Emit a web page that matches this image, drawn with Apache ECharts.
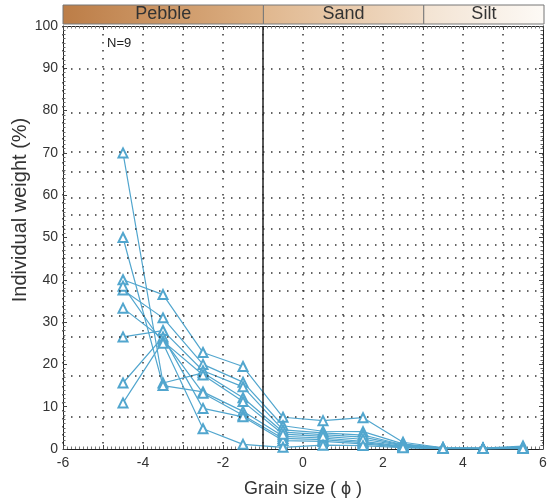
<!DOCTYPE html>
<html>
<head>
<meta charset="utf-8">
<script src="https://cdn.jsdelivr.net/npm/echarts@6/dist/echarts.min.js"></script>
<style>
	html,body{margin:0;padding:0;background:#fff;}
	#chart{width:551px;height:503px;}
</style>
</head>
<body>
<div id="chart"></div>
<script>
	// grain size classes (phi) and sample values
	var grainSizes = [-4.5, -3.5, -2.5, -1.5, -0.5, 0.5, 1.5, 2.5, 3.5, 4.5, 5.5];
	var sample1 = [70, 15.6, 18.0, 12.1, 4.0, 3.4, 2.8, 0.9, 0.2, 0.1, 0.3];
	var sample2 = [50, 15.0, 13.5, 8.9, 3.0, 2.6, 1.8, 0.6, 0.2, 0.1, 0.2];
	var sample3 = [40, 36.5, 22.8, 19.5, 7.5, 6.7, 7.4, 1.6, 0.3, 0.2, 0.7];
	var sample4 = [37.6, 31, 20, 15.8, 5.5, 4.2, 4.1, 1.2, 0.2, 0.2, 0.4];
	var sample5 = [33.3, 26, 13.2, 8.0, 2.5, 2.2, 1.5, 0.5, 0.1, 0.1, 0.1];
	var sample6 = [26.5, 28, 18.5, 14.7, 4.5, 3.8, 3.3, 1.0, 0.3, 0.2, 0.3];
	var sample7 = [15.6, 26.5, 9.6, 7.6, 2.0, 1.8, 1.2, 0.4, 0.1, 0.1, 0.2];
	var sample8 = [10.9, 25.5, 17.5, 11.2, 3.5, 3.0, 2.3, 0.8, 0.2, 0.1, 0.2];
	var sample9 = [38.5, 25, 4.8, 1.1, 0.4, 0.9, 0.8, 0.3, 0.1, 0.1, 0.1];
	var samples = [sample1, sample2, sample3, sample4, sample5, sample6, sample7, sample8, sample9];

	// class band on top
	var bandNames = ['Pebble', 'Sand', 'Silt'];
	var bandEdges = [-6, -1, 3, 6];
	var bandColors = [['#bc7d47', '#ddb185'], ['#e0b78e', '#f1ddc8'], ['#f3e3d2', '#fdfaf6']];

	// dotted horizontal guide lines of the original figure (not evenly spaced)
	var hGuides = [90, 79.5, 70.2, 65.6, 59.5, 55.3, 52.1, 48.4, 45.1, 41.6, 37.4, 31.4, 26.5, 17.4, 7.6];
	var sandLimit = -1;

	var FONT = 'Liberation Sans, Arial, sans-serif';
	var LINE = '#52a6ce';
	var dots = [1.5, 6.5];

	function xAx(pos, labels){
		return {
			type:'value', min:-6, max:6, interval:1, position:pos, gridIndex:0,
			axisLine:{show:true, onZero:false, lineStyle:{color:'#222', width:1}},
			axisTick:{show:true, inside:true, length:4, lineStyle:{color:'#444'}},
			minorTick:{show:true, splitNumber:10, length:2.5, lineStyle:{color:'#777'}},
			splitLine:{show:pos == 'bottom', lineStyle:{color:'#333', width:1.5, type:dots}},
			axisLabel:{show:labels, fontFamily:FONT, fontSize:14, color:'#333', margin:7,
				formatter:function(v){ return v % 2 === 0 ? String(v) : ''; }}
		};
	}
	function yAx(pos, labels){
		return {
			type:'value', min:0, max:100, interval:10, position:pos, gridIndex:0,
			axisLine:{show:true, onZero:false, lineStyle:{color:'#222', width:1}},
			axisTick:{show:true, inside:true, length:4, lineStyle:{color:'#444'}},
			minorTick:{show:true, splitNumber:10, length:2.5, lineStyle:{color:'#666'}},
			splitLine:{show:false},
			axisLabel:{show:labels, fontFamily:FONT, fontSize:14, color:'#333', margin:5}
		};
	}

	var chart = echarts.init(document.getElementById('chart'));

	var xBottom = xAx('bottom', true);
	xBottom.name = 'Grain size ( \u03d5 )';
	xBottom.nameLocation = 'middle';
	xBottom.nameGap = 31;
	xBottom.nameTextStyle = {fontFamily:FONT, fontSize:18, color:'#333'};

	var bandAreas = [];
	for(var b = 0; b < bandNames.length; b++){
		bandAreas.push([
			{name:bandNames[b], xAxis:bandEdges[b], yAxis:0,
				itemStyle:{color:new echarts.graphic.LinearGradient(0, 0, 1, 0, [
					{offset:0, color:bandColors[b][0]}, {offset:1, color:bandColors[b][1]}])}},
			{xAxis:bandEdges[b + 1], yAxis:1}
		]);
	}

	var series = [];
	series.push({
		type:'line', xAxisIndex:0, yAxisIndex:0, data:[], silent:true, z:1,
		markLine:{
			silent:true, symbol:'none', animation:false,
			label:{show:false},
			lineStyle:{color:'#333', width:1.5, type:dots},
			data:hGuides.map(function(v){ return {yAxis:v}; })
		}
	});
	series.push({
		type:'line', xAxisIndex:0, yAxisIndex:0, data:[], silent:true, z:2,
		markLine:{
			silent:true, symbol:'none', animation:false,
			label:{show:false},
			lineStyle:{color:'#222', width:1.5, type:'solid'},
			data:[{xAxis:sandLimit}]
		}
	});
	series.push({
		type:'line', xAxisIndex:2, yAxisIndex:2, data:[], silent:true,
		markArea:{
			silent:true, animation:false,
			itemStyle:{borderColor:'#777', borderWidth:1},
			label:{show:true, position:'inside', fontFamily:FONT, fontSize:18, color:'#333'},
			data:bandAreas
		}
	});
	for(var i = 0; i < samples.length; i++){
		series.push({
			type:'line', xAxisIndex:0, yAxisIndex:0, z:3,
			data:grainSizes.map(function(g, k){ return [g, samples[i][k]]; }),
			symbol:'emptyTriangle', symbolSize:9,
			lineStyle:{color:LINE, width:1.2},
			itemStyle:{color:LINE, borderColor:LINE, borderWidth:1.1},
			animation:false
		});
	}

	chart.setOption({
		backgroundColor:'#fff',
		animation:false,
		grid:[
			{left:63, right:8, top:26, bottom:54},
			{left:63, right:7, top:5, height:19}
		],
		xAxis:[
			xBottom,
			xAx('top', false),
			{type:'value', gridIndex:1, min:-6, max:6, show:false}
		],
		yAxis:[
			yAx('left', true),
			yAx('right', false),
			{type:'value', gridIndex:1, min:0, max:1, show:false}
		],
		graphic:[{
			type:'text', left:107, top:37,
			style:{text:'N=9', font:'13px ' + FONT, fill:'#222'}
		}, {
			type:'text', x:20, y:210, rotation:Math.PI / 2,
			style:{text:'Individual weight (%)', font:'20px ' + FONT, fill:'#333',
				align:'center', verticalAlign:'middle'}
		}],
		series:series
	});
</script>
</body>
</html>
